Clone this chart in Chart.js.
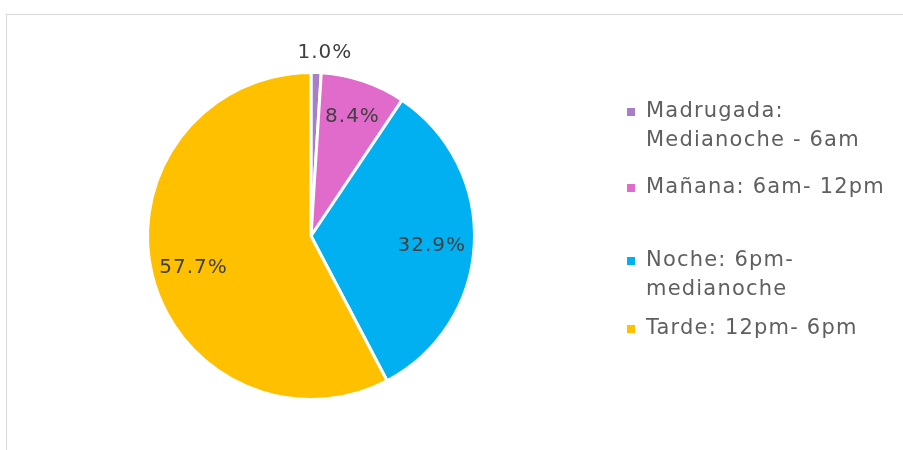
<!DOCTYPE html>
<html>
<head>
<meta charset="utf-8">
<script src="https://cdn.jsdelivr.net/npm/chart.js@4.4.0/dist/chart.umd.min.js"></script>
<style>
  html, body { margin: 0; padding: 0; background: #fff; }
  #wrap { position: relative; width: 903px; height: 450px; }
  #box { position: absolute; left: 6px; top: 14px; width: 920px; height: 450px; border: 1px solid #d9d9d9; box-sizing: border-box; }
  canvas { position: absolute; left: 0; top: 0; }
</style>
</head>
<body>
<div id="wrap">
  <div id="box"></div>
  <canvas id="grafico" width="903" height="450"></canvas>
</div>
<script>
// datos del grafico
var categorias = ['Madrugada: Medianoche - 6am', 'Mañana: 6am- 12pm', 'Noche: 6pm- medianoche', 'Tarde: 12pm- 6pm'];
var leyenda = [['Madrugada:', 'Medianoche - 6am'], ['Mañana: 6am- 12pm'], ['Noche: 6pm-', 'medianoche'], ['Tarde: 12pm- 6pm']];
var porcentajes = [1.0, 8.4, 32.9, 57.7];
var colores = ['#a67fc8', '#e06bcb', '#00b0f0', '#ffc000'];

var fuente = '"DejaVu Sans", sans-serif';

// etiquetas de porcentaje sobre cada rebanada
var etiquetas = {
  id: 'etiquetas',
  afterDatasetsDraw: function(chart) {
    var ctx = chart.ctx;
    var meta = chart.getDatasetMeta(0);
    ctx.save();
    ctx.font = '20px ' + fuente;
    ctx.letterSpacing = '1px';
    ctx.fillStyle = '#404040';
    ctx.textAlign = 'center';
    ctx.textBaseline = 'middle';
    meta.data.forEach(function(arc, i) {
      var p = arc.getProps(['x', 'y', 'startAngle', 'endAngle', 'outerRadius'], true);
      var mid = (p.startAngle + p.endAngle) / 2;
      var fuera = porcentajes[i] < 3;
      var r = fuera ? p.outerRadius + 22 : p.outerRadius * (porcentajes[i] < 15 ? 0.79 : 0.74);
      var x = p.x + Math.cos(mid) * r + (fuera ? 8 : 0);
      var y = p.y + Math.sin(mid) * r + (fuera ? 2 : 3);
      ctx.fillText(porcentajes[i].toFixed(1) + '%', x, y);
    });
    ctx.restore();
  }
};

// leyenda a la derecha con texto en varias lineas
var leyendaDerecha = {
  id: 'leyendaDerecha',
  afterDraw: function(chart) {
    var ctx = chart.ctx;
    var filas = [112, 188, 261, 329];
    ctx.save();
    ctx.font = '21px ' + fuente;
    ctx.letterSpacing = '1.2px';
    ctx.textBaseline = 'middle';
    leyenda.forEach(function(lineas, i) {
      ctx.fillStyle = colores[i];
      ctx.fillRect(627, filas[i] - 4, 8, 8);
      ctx.fillStyle = '#5f5f5f';
      lineas.forEach(function(t, j) {
        ctx.fillText(t, 646, filas[i] + j * 29);
      });
    });
    ctx.restore();
  }
};

new Chart(document.getElementById('grafico'), {
  type: 'pie',
  data: {
    labels: categorias,
    datasets: [{
      data: porcentajes,
      backgroundColor: colores,
      borderColor: '#ffffff',
      borderWidth: 3
    }]
  },
  options: {
    responsive: false,
    animation: false,
    layout: { padding: { left: 146, right: 427, top: 71, bottom: 49 } },
    plugins: {
      legend: { display: false },
      tooltip: { enabled: false }
    }
  },
  plugins: [etiquetas, leyendaDerecha]
});
</script>
</body>
</html>
